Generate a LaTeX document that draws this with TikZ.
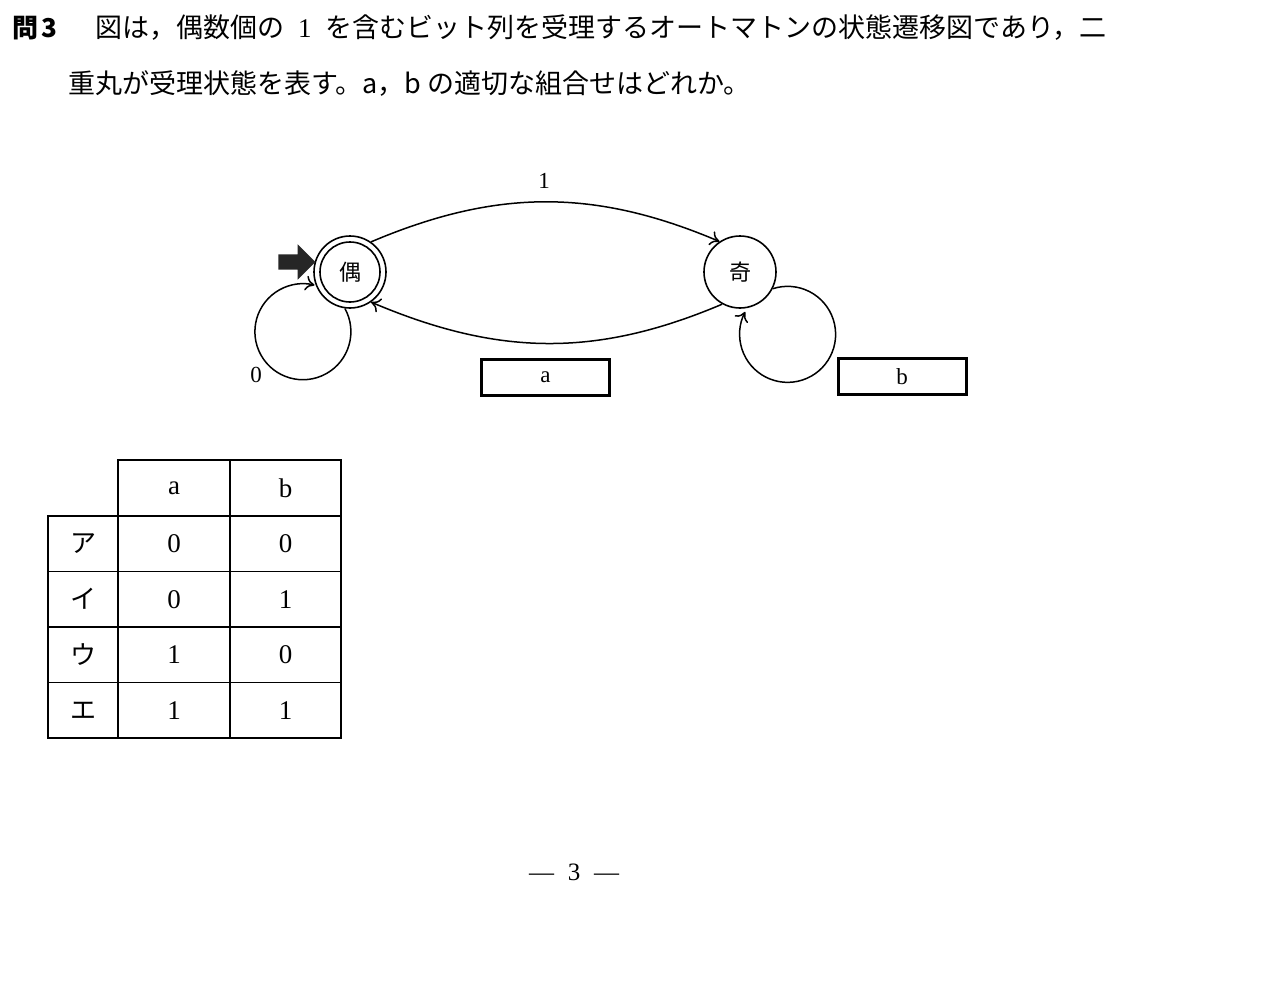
\documentclass[tikz,border=0pt]{standalone}
\usepackage{fontspec}
\setmainfont{Liberation Serif}
\newfontfamily\jp{Noto Sans CJK JP}
\usetikzlibrary{shapes.arrows, arrows.meta}
\tikzset{
    every node/.style={inner sep=0mm},
    state/.style={circle, draw, line width=1.6pt, minimum size=72pt, font=\jp\fontsize{22}{22}\selectfont},
    accept/.style={path picture={\draw[line width=1.6pt] (path picture bounding box.center) circle (30pt);}},
    valbox/.style={rectangle, draw, line width=3pt, minimum width=128pt, minimum height=36pt, font=\fontsize{23}{23}\selectfont},
    cell/.style={rectangle, draw, line width=1.7pt, minimum height=55.6pt, font=\fontsize{27}{27}\selectfont},
    startarrow/.style={single arrow, fill=black!85, minimum height=37pt, single arrow head extend=10pt, inner sep=7.5pt},
    lbl/.style={font=\fontsize{23}{23}\selectfont},
    qtext/.style={anchor=west, font=\jp\fontsize{27}{27}\selectfont},
    trans/.style={-{To[length=9pt, width=15pt, line width=1.5pt]}, line width=1.5pt}
}

\begin{document}
\begin{tikzpicture}[x=1pt, y=1pt]
    \path[use as bounding box, fill=white] (0, 0) rectangle (1275, -990);

    % question text
    \node (qno) [qtext, font=\jp\bfseries\fontsize{26}{26}\selectfont] at (12, -28) {問\hspace{3pt}3};
    \node (q1) [qtext] at (95, -28) {図は，偶数個の\hspace{14pt}{\rmfamily 1}\hspace{14pt}を含むビット列を受理するオートマトンの状態遷移図であり，二};
    \node (q2) [qtext] at (68, -84) {重丸が受理状態を表す。a，b の適切な組合せはどれか。};

    % automaton
    \node (even) [state, accept] at (350, -272) {偶};
    \node (odd) [state] at (740, -272) {奇};
    \node (start) [startarrow] at (293, -262) {};

    \draw (even.55) edge[trans, out=23, in=157] (odd.124);
    \draw (odd.-119) edge[trans, out=-157, in=-23] (even.-55);
    \draw [trans] (even.-98) arc[start angle=29, end angle=-284, radius=48];
    \draw [trans] (odd.-27) arc[start angle=108, end angle=-208, radius=48];

    \node (one) [lbl] at (544, -181) {1};
    \node (zero) [lbl] at (256, -375) {0};
    \node (boxa) [valbox] at (545.5, -377.5) {a};
    \node (boxb) [valbox] at (902, -376.5) {b};

    % table
    \node (ha) [cell, minimum width=112pt] at (174, -488) {a};
    \node (hb) [cell, minimum width=111pt] at (285.5, -488) {b};
    \foreach \kana/\va/\vb [count=\k] in {ア/0/0, イ/0/1, ウ/1/0, エ/1/1} {
        \node (kana\k) [cell, minimum width=70pt, font=\jp\fontsize{26}{26}\selectfont] at (83, {-488-55.6*\k}) {\kana};
        \node (a\k) [cell, minimum width=112pt] at (174, {-488-55.6*\k}) {\va};
        \node (b\k) [cell, minimum width=111pt] at (285.5, {-488-55.6*\k}) {\vb};
    }

    \node (page) [font=\fontsize{25}{25}\selectfont] at (574, -872) {—\hspace{0.55em}3\hspace{0.55em}—};
\end{tikzpicture}
\end{document}
